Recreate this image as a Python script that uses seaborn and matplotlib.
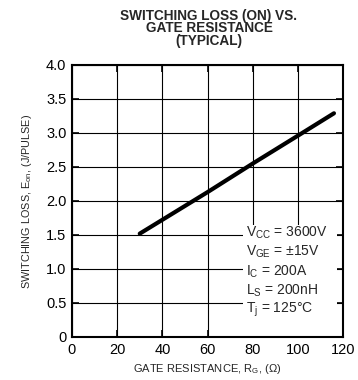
import matplotlib
matplotlib.use("Agg")
import matplotlib.pyplot as plt
import seaborn as sns
import pandas as pd

# Data
rg_ohm = [30, 60, 80, 100, 116]
eon_j = [1.52, 2.13, 2.55, 2.96, 3.29]
x_ticks = [0, 20, 40, 60, 80, 100, 120]
x_tick_labels = ["0", "20", "40", "60", "80", "100", "120"]
y_ticks = [0, 0.5, 1.0, 1.5, 2.0, 2.5, 3.0, 3.5, 4.0]
y_tick_labels = ["0", "0.5", "1.0", "1.5", "2.0", "2.5", "3.0", "3.5", "4.0"]
conditions = ["V$_{CC}$ = 3600V", "V$_{GE}$ = ±15V", "I$_C$ = 200A",
              "L$_S$ = 200nH", "T$_j$ = 125°C"]

sns.set_style("ticks")
plt.rcParams['font.family'] = ['Liberation Sans', 'DejaVu Sans']
plt.rcParams['mathtext.fontset'] = 'custom'
plt.rcParams['mathtext.rm'] = 'Liberation Sans'
plt.rcParams['mathtext.it'] = 'Liberation Sans'
plt.rcParams['mathtext.default'] = 'regular'

df = pd.DataFrame({"rg": rg_ohm, "eon": eon_j})

fig = plt.figure(figsize=(3.58, 3.80), dpi=100)
ax = fig.add_axes([72 / 358, 1 - 337 / 380, (343 - 72) / 358, (337 - 65) / 380])

sns.lineplot(data=df, x="rg", y="eon", ax=ax, color="black", linewidth=3,
             zorder=4)

ax.set_xlim(0, 120)
ax.set_ylim(0, 4.0)
ax.set_xticks(x_ticks)
ax.set_xticklabels(x_tick_labels, fontsize=10.5)
ax.set_yticks(y_ticks)
ax.set_yticklabels(y_tick_labels, fontsize=10.5)
ax.grid(True, color="black", linewidth=0.8, zorder=1)
ax.set_axisbelow(True)
ax.tick_params(direction="in", length=5, width=1.2, top=True, right=True,
               pad=4, colors="black")
for s in ax.spines.values():
    s.set_linewidth(1.5)
    s.set_color("black")
    s.set_zorder(6)

ax.set_xlabel("GATE RESISTANCE, R$_G$, (Ω)", fontsize=8, labelpad=4)
ax.set_ylabel("SWITCHING LOSS, E$_{on}$, (J/PULSE)", fontsize=7.8, labelpad=9)

# white box behind the condition text
ax.add_patch(plt.Rectangle((75.5, 0), 42, 1.65, facecolor="white",
                           edgecolor="none", zorder=3))
y0 = 1.535
for i, t in enumerate(conditions):
    ax.text(77, y0 - i * 0.285, t, fontsize=10, va="center", ha="left",
            zorder=5)

fig.text(209 / 358, 1 - 28.5 / 380,
         "SWITCHING LOSS (ON) VS.\nGATE RESISTANCE\n(TYPICAL)",
         ha="center", va="center", fontsize=9.8, fontweight="bold",
         linespacing=0.88)

fig.savefig("out.png", dpi=100)
